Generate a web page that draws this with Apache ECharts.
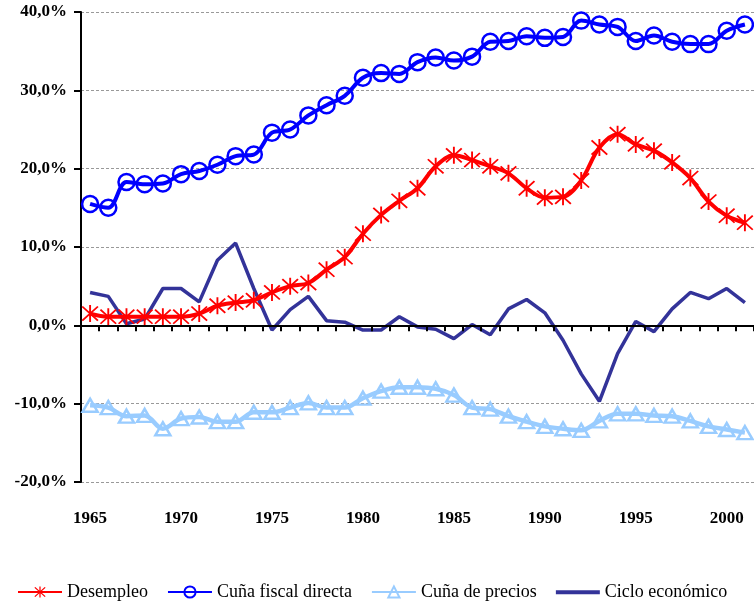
<!DOCTYPE html>
<html>
<head>
<meta charset="utf-8">
<script src="https://cdn.jsdelivr.net/npm/echarts@6/dist/echarts.min.js"></script>
<style>
  html, body { margin: 0; padding: 0; background: #fff; }
  #chart { width: 754px; height: 606px; }
</style>
</head>
<body>
<div id="chart"></div>
<script>
// años 1965-2001
const years = [];
for (let y = 1965; y <= 2001; y++) years.push(String(y));

const desempleo = [1.5, 1.1, 1.1, 1.1, 1.1, 1.1, 1.5, 2.5, 2.9, 3.2,
  4.2, 5.0, 5.4, 7.1, 8.7, 11.7, 14.1, 15.9, 17.5, 20.3,
  21.7, 21.1, 20.3, 19.4, 17.5, 16.3, 16.4, 18.5, 22.7, 24.4,
  23.1, 22.3, 20.8, 18.8, 15.8, 14.0, 13.1];

const cunaFiscal = [15.5, 15.0, 18.3, 18.0, 18.1, 19.3, 19.7, 20.5, 21.6, 21.8,
  24.6, 25.0, 26.8, 28.1, 29.3, 31.6, 32.2, 32.1, 33.6, 34.2,
  33.8, 34.3, 36.2, 36.3, 36.9, 36.7, 36.8, 38.9, 38.4, 38.1,
  36.3, 37.0, 36.2, 35.9, 35.9, 37.6, 38.4];

const cunaPrecios = [-10.2, -10.5, -11.6, -11.5, -13.2, -11.9, -11.7, -12.3, -12.3, -11.1,
  -11.1, -10.5, -9.9, -10.5, -10.5, -9.3, -8.4, -7.9, -7.9, -8.1,
  -8.9, -10.5, -10.7, -11.6, -12.3, -12.9, -13.2, -13.4, -12.2, -11.3,
  -11.3, -11.5, -11.6, -12.2, -12.9, -13.3, -13.7];

const ciclo = [4.2, 3.7, 0.2, 0.8, 4.7, 4.7, 3.0, 8.3, 10.5, 4.7,
  -0.6, 2.0, 3.7, 0.6, 0.4, -0.6, -0.6, 1.1, -0.2, -0.5,
  -1.7, 0.1, -1.2, 2.1, 3.3, 1.6, -1.9, -6.2, -9.7, -3.6,
  0.5, -0.8, 2.1, 4.2, 3.4, 4.7, 2.9];

const yTicks = { min: -20, max: 40, step: 10 };

// asterisco de Excel: barra vertical + aspa
const starPath = 'path://M9 0H11V20H9Z M1 2.4L2.4 1L19 17.6L17.6 19Z M17.6 1L19 2.4L2.4 19L1 17.6Z';
// icono de leyenda: solo una linea gruesa (puntos minimos para fijar la caja)
const lineIcon = 'path://M0 5.2H44V9.2H0Z M0 0H0.01V0.01H0Z M0 14H0.01V14.01H0Z';

const serif = '"Liberation Serif", "DejaVu Serif", serif';

let myChart = echarts.init(document.getElementById('chart'), null, { renderer: 'canvas' });

let option = {
  animation: false,
  backgroundColor: '#fff',
  textStyle: { fontFamily: serif },
  grid: { left: 81, right: -7, top: 12, bottom: 124 },
  legend: {
    left: 12,
    bottom: 0,
    itemWidth: 44,
    itemHeight: 14,
    itemGap: 19,
    textStyle: { fontFamily: serif, fontSize: 18, color: '#000' },
    data: ['Desempleo', 'Cuña fiscal directa', 'Cuña de precios',
      { name: 'Ciclo económico', icon: lineIcon }]
  },
  xAxis: [
    {
      type: 'category',
      data: years,
      boundaryGap: true,
      axisLine: { show: true, onZero: true, lineStyle: { color: '#000', width: 2 } },
      axisTick: { show: true, inside: false, interval: 0, length: 6, lineStyle: { color: '#000', width: 2 } },
      axisLabel: { show: false, interval: 0 },
      splitLine: { show: false },
      z: 10
    },
    {
      type: 'category',
      data: years,
      position: 'bottom',
      boundaryGap: true,
      axisLine: { show: false, onZero: false },
      axisTick: { show: false },
      axisLabel: {
        interval: 4,
        margin: 28,
        fontFamily: serif,
        fontWeight: 'bold',
        fontSize: 17,
        color: '#000'
      },
      splitLine: { show: false }
    }
  ],
  yAxis: {
    type: 'value',
    min: yTicks.min,
    max: yTicks.max,
    interval: yTicks.step,
    axisLine: { show: true, lineStyle: { color: '#000', width: 2 } },
    axisTick: { show: true, length: 7, lineStyle: { color: '#000', width: 2 } },
    axisLabel: {
      margin: 14,
      fontFamily: serif,
      fontWeight: 'bold',
      fontSize: 17,
      color: '#000',
      formatter: v => v.toFixed(1).replace('.', ',') + '%'
    },
    splitLine: { show: true, lineStyle: { color: '#999', width: 1, type: [3, 2] } }
  },
  series: [
    {
      name: 'Ciclo económico',
      type: 'line',
      data: ciclo,
      showSymbol: false,
      symbol: 'none',
      color: '#333399',
      lineStyle: { color: '#333399', width: 3.5 },
      z: 2
    },
    {
      name: 'Cuña de precios',
      type: 'line',
      data: cunaPrecios,
      smooth: 0.35,
      showSymbol: true,
      showAllSymbol: true,
      symbol: 'triangle',
      symbolSize: [15, 13],
      color: '#99CCFF',
      lineStyle: { color: '#99CCFF', width: 4.5 },
      itemStyle: { color: 'rgba(255,255,255,0)', borderColor: '#99CCFF', borderWidth: 2.5 },
      z: 3
    },
    {
      name: 'Desempleo',
      type: 'line',
      data: desempleo,
      smooth: 0.35,
      showSymbol: true,
      showAllSymbol: true,
      symbol: starPath,
      symbolSize: 17,
      color: '#FF0000',
      lineStyle: { color: '#FF0000', width: 4 },
      itemStyle: { color: '#FF0000' },
      z: 4
    },
    {
      name: 'Cuña fiscal directa',
      type: 'line',
      data: cunaFiscal,
      smooth: 0.35,
      showSymbol: true,
      showAllSymbol: true,
      symbol: 'circle',
      symbolSize: 16,
      color: '#0000FF',
      lineStyle: { color: '#0000FF', width: 4 },
      itemStyle: { color: 'rgba(255,255,255,0)', borderColor: '#0000FF', borderWidth: 2.5 },
      z: 5
    }
  ]
};

option && myChart.setOption(option);
</script>
</body>
</html>
